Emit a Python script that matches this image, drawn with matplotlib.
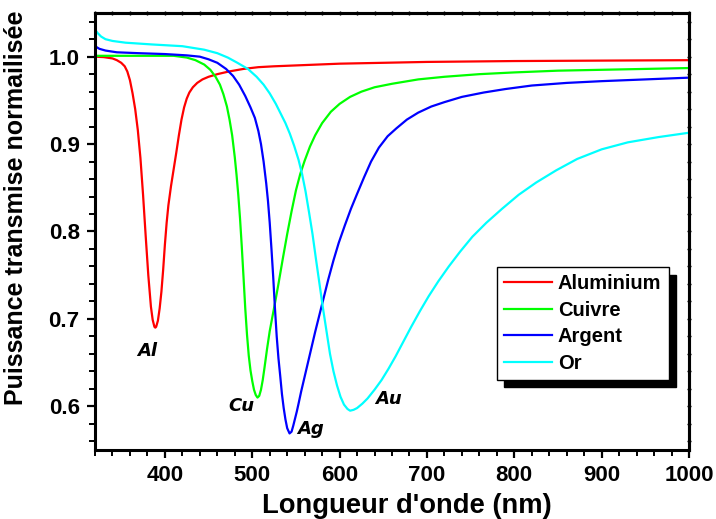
import numpy as np
import matplotlib
matplotlib.use("Agg")
import matplotlib.pyplot as plt
from matplotlib.ticker import MultipleLocator

# ---- données ----
x_al = [320, 330, 340, 345, 350, 354, 357, 360, 363, 366, 369, 372, 375, 378,
        381, 384, 386, 388, 389, 390, 392, 394, 396, 398, 400, 402, 404, 407,
        410, 413, 416, 419, 422, 425, 428, 432, 437, 443, 450, 460, 473, 490,
        507, 525, 550, 600, 650, 700, 800, 900, 1000]
y_al = [1.000, 0.9995, 0.998, 0.996, 0.993, 0.989, 0.983, 0.973, 0.958, 0.940,
        0.916, 0.884, 0.842, 0.795, 0.750, 0.714, 0.699, 0.691, 0.690, 0.691,
        0.698, 0.712, 0.731, 0.756, 0.785, 0.810, 0.830, 0.852, 0.871, 0.890,
        0.910, 0.928, 0.942, 0.952, 0.959, 0.965, 0.970, 0.974, 0.977, 0.980,
        0.983, 0.986, 0.988, 0.989, 0.990, 0.992, 0.993, 0.994, 0.995, 0.9955,
        0.996]

x_cu = [320, 380, 410, 425, 435, 445, 452, 458, 463, 467, 471, 474, 477, 480,
        482, 484, 486, 488, 490, 492, 494, 496, 498, 500, 502, 504, 506, 508,
        510, 512, 514, 517, 520, 523, 526, 530, 535, 540, 545, 550, 555, 560,
        566, 572, 580, 590, 600, 612, 625, 640, 660, 690, 720, 760, 800, 850,
        900, 950, 1000]
y_cu = [1.001, 1.001, 1.001, 0.999, 0.996, 0.991, 0.985, 0.977, 0.968, 0.957,
        0.943, 0.928, 0.910, 0.885, 0.865, 0.842, 0.815, 0.783, 0.748, 0.712,
        0.682, 0.658, 0.641, 0.629, 0.619, 0.613, 0.610, 0.612, 0.619, 0.630,
        0.644, 0.666, 0.686, 0.702, 0.718, 0.740, 0.769, 0.797, 0.823, 0.847,
        0.866, 0.881, 0.897, 0.910, 0.924, 0.937, 0.946, 0.954, 0.960, 0.965,
        0.969, 0.974, 0.977, 0.980, 0.982, 0.984, 0.985, 0.986, 0.987]

x_ag = [320, 325, 332, 345, 370, 400, 425, 440, 450, 460, 470, 478, 485, 492,
        498, 503, 507, 510, 513, 516, 518, 520, 522, 524, 526, 528, 530, 532,
        534, 536, 538, 540, 542.7, 545, 547, 549, 551, 553, 556, 560, 564, 568,
        572, 577, 582, 587, 593, 599, 606, 613, 620, 628, 636, 645, 655, 665,
        677, 690, 705, 720, 740, 765, 790, 820, 860, 900, 950, 1000]
y_ag = [1.012, 1.009, 1.007, 1.005, 1.004, 1.003, 1.0015, 1.000, 0.997, 0.993,
        0.986, 0.978, 0.968, 0.955, 0.942, 0.930, 0.915, 0.900, 0.880, 0.855,
        0.835, 0.810, 0.780, 0.748, 0.712, 0.680, 0.655, 0.635, 0.614, 0.598,
        0.585, 0.575, 0.569, 0.571, 0.578, 0.586, 0.594, 0.603, 0.617, 0.634,
        0.651, 0.668, 0.685, 0.705, 0.725, 0.745, 0.767, 0.787, 0.807, 0.826,
        0.843, 0.862, 0.880, 0.896, 0.909, 0.918, 0.928, 0.936, 0.943, 0.948,
        0.954, 0.959, 0.963, 0.967, 0.970, 0.972, 0.974, 0.976]

x_au = [320, 323, 327, 332, 340, 355, 385, 420, 445, 460, 472, 483, 495, 505,
        513, 520, 527, 533, 538, 543, 548, 553, 557, 561, 565, 569, 573, 577,
        581, 585, 589, 593, 597, 601, 605, 609, 612, 616, 620, 626, 632, 640,
        648, 656, 664, 673, 682, 692, 702, 713, 725, 738, 752, 768, 786, 805,
        825, 848, 872, 900, 930, 965, 1000]
y_au = [1.031, 1.027, 1.023, 1.020, 1.018, 1.016, 1.014, 1.012, 1.008, 1.004,
        0.999, 0.993, 0.986, 0.977, 0.968, 0.958, 0.946, 0.934, 0.924, 0.912,
        0.898, 0.882, 0.866, 0.846, 0.822, 0.797, 0.768, 0.740, 0.712, 0.686,
        0.660, 0.640, 0.624, 0.611, 0.602, 0.597, 0.595, 0.596, 0.598, 0.603,
        0.609, 0.619, 0.630, 0.643, 0.657, 0.674, 0.691, 0.709, 0.726, 0.743,
        0.760, 0.777, 0.794, 0.810, 0.826, 0.842, 0.856, 0.870, 0.883, 0.894,
        0.902, 0.908, 0.913]

series = [
    ("Aluminium", x_al, y_al, "#FF0000"),
    ("Cuivre", x_cu, y_cu, "#00FF00"),
    ("Argent", x_ag, y_ag, "#0000FF"),
    ("Or", x_au, y_au, "#00FFFF"),
]

# étiquettes des minima
annot_txt = ["Al", "Cu", "Ag", "Au"]
annot_x = [379.5, 488, 567, 656]
annot_y = [0.663, 0.600, 0.574, 0.608]

FONT = "Liberation Sans"

fig = plt.figure(figsize=(7.16, 5.19), dpi=100)
ax = fig.add_axes([0.1327, 0.1329, 0.8296, 0.8421])

for name, xs, ys, c in series:
    ax.plot(xs, ys, color=c, lw=1.6, label=name)

for t, xa, ya in zip(annot_txt, annot_x, annot_y):
    ax.text(xa, ya, t, ha="center", va="center", fontsize=13,
            fontweight="bold", fontstyle="italic", family="DejaVu Sans")

ax.set_xlim(320, 1000)
ax.set_ylim(0.55, 1.05)
ax.xaxis.set_major_locator(MultipleLocator(100))
ax.xaxis.set_minor_locator(MultipleLocator(20))
ax.yaxis.set_major_locator(MultipleLocator(0.1))
ax.yaxis.set_minor_locator(MultipleLocator(0.02))
ax.yaxis.set_major_formatter(plt.FuncFormatter(lambda v, p: f"{v:.1f}"))

for sp in ax.spines.values():
    sp.set_linewidth(2.2)
ax.tick_params(which="major", direction="out", length=6, width=1.6,
               labelsize=16, pad=5)
ax.tick_params(which="minor", direction="out", length=4, width=1.4)
for lab in ax.get_xticklabels() + ax.get_yticklabels():
    lab.set_fontweight("bold")
    lab.set_family(FONT)

# petits traits sur les axes haut et droit
top = ax.secondary_xaxis("top")
top.xaxis.set_major_locator(MultipleLocator(20))
top.tick_params(direction="inout", length=3, width=1, labeltop=False)
top.spines["top"].set_linewidth(2.2)
right = ax.secondary_yaxis("right")
right.yaxis.set_major_locator(MultipleLocator(0.02))
right.tick_params(direction="inout", length=3, width=1, labelright=False)
right.spines["right"].set_linewidth(2.2)

ax.set_xlabel("Longueur d'onde (nm)", fontsize=19.7, fontweight="bold",
              family=FONT, labelpad=4)
ax.xaxis.set_label_coords(0.525, -0.098)
ax.set_ylabel("Puissance transmise normailisée", fontsize=18,
              fontweight="bold", family=FONT, labelpad=6)
ax.yaxis.set_label_coords(-0.112, 0.555)

leg = ax.legend(loc="upper left", bbox_to_anchor=(0.676, 0.418),
                borderaxespad=0, fancybox=False, edgecolor="black",
                framealpha=1, handlelength=2.4, handletextpad=0.3,
                borderpad=0.35, labelspacing=0.37,
                prop=dict(family=FONT, weight="bold", size=14.5),
                shadow=dict(ox=5.5, oy=-5.5, facecolor="black",
                            edgecolor="black", alpha=1))
leg.get_frame().set_linewidth(1.0)

fig.savefig("out.png", dpi=100)
